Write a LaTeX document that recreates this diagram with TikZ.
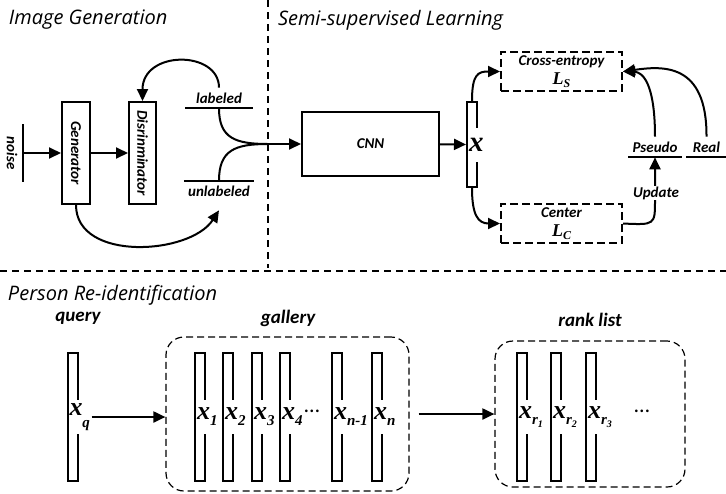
\documentclass[tikz,border=0pt]{standalone}
\usepackage{fontspec}
\setmainfont{Carlito}
\newfontfamily\titlefont{Open Sans}
\newfontfamily\serifx{Liberation Serif}
\usepackage{tikz}
\usetikzlibrary{arrows.meta}

% feature vector label: x with a subscript
\newcommand{\xv}[2][-6pt]{{\serifx\bfseries\itshape\fontsize{26}{26}\selectfont x}\raisebox{#1}{\serifx\bfseries\itshape\fontsize{15}{15}\selectfont #2}}
\newcommand{\rsub}[1]{r\raisebox{-3pt}{\fontsize{10}{10}\selectfont #1}}
\newcommand{\lossvar}[1]{{\serifx\itshape\fontsize{18}{18}\selectfont L\raisebox{-3pt}{\fontsize{12}{12}\selectfont #1}}}

\begin{document}
\begin{tikzpicture}[x=1pt, y=-1pt, line width=2pt,
        box/.style = {draw, inner sep=0pt},
        lossbox/.style = {draw, dash pattern=on 8pt off 4pt,
            minimum width=121pt, minimum height=39pt,
            inner sep=0pt, align=center},
        feat/.style = {draw, minimum width=10pt, minimum height=128pt,
            inner sep=0pt},
        sub/.style = {fill=white, inner sep=0.5pt, minimum height=34pt,
            anchor=west},
        lbl/.style = {font=\bfseries\itshape\fontsize{15}{19}\selectfont},
        head/.style = {font=\bfseries\itshape\fontsize{19}{20}\selectfont},
        title/.style = {font=\titlefont\itshape\fontsize{20}{22}\selectfont,
            anchor=west, inner sep=0pt},
        arr/.style = {-{Triangle[length=12pt,width=11pt]}},
        sep/.style = {line width=1.1pt, dash pattern=on 7pt off 5pt},
        group/.style = {draw, line width=1.2pt, dash pattern=on 7pt off 4pt,
            rounded corners=18pt, inner sep=0pt},
        dots/.style = {font=\fontsize{22}{22}\selectfont, inner sep=0pt}]

    \useasboundingbox (0,0) rectangle (726,493);

    % Section separators
    \draw[sep] (268,0) -- (268,268);
    \draw[sep] (0,271) -- (726,271);

    % Image generation
    \node[title] (tgen) at (8,20) {Image Generation};
    \node[lbl, rotate=-90] (noise) at (12,153) {noise};
    \node[minimum height=56pt, minimum width=0pt, inner sep=0pt] (nbar) at (23,153) {};
    \draw (nbar.north) -- (nbar.south);
    \node[box, lbl, minimum width=28pt, minimum height=102pt] (gen) at (76,153) {\rotatebox{-90}{Generator}};
    \node[box, lbl, minimum width=27pt, minimum height=102pt] (dis) at (142.5,153) {\rotatebox{-90}{Disrinminator}};
    \draw[arr] (nbar) -- (gen);
    \draw[arr] (gen) -- (dis);

    % Labeled / unlabeled data
    \node[lbl, minimum width=66pt, inner ysep=4pt] (labeled) at (219,98) {labeled};
    \draw (labeled.south west) -- (labeled.south east);
    \node[lbl, minimum width=66pt, inner ysep=4pt] (unlabeled) at (219,191) {unlabeled};
    \draw (unlabeled.north west) -- (unlabeled.north east);
    \draw[arr] (labeled.north) .. controls (219,50) and (142.5,50) .. (dis.north);
    \draw[arr] (gen.south) .. controls (76,262) and (190,255) .. ([yshift=-9pt]unlabeled.south);

    % Semi-supervised learning
    \node[title] (tsemi) at (277,20) {Semi-supervised Learning};
    \node[box, lbl, minimum width=137pt, minimum height=64pt] (cnn) at (370.5,144) {CNN};
    \coordinate (join) at (268,144);
    \draw (labeled.south) .. controls (219,138) and (235,144) .. (join);
    \draw (unlabeled.north) .. controls (219,150) and (235,144) .. (join);
    \draw[arr] (join) -- (cnn.west);

    \node[feat, minimum height=85pt] (xbar) at (472,144.5) {};
    \node[sub] (xlab) at ([xshift=1.5pt]xbar.west) {{\serifx\bfseries\itshape\fontsize{29}{29}\selectfont x}};
    \draw[arr] (cnn) -- (xbar);

    \node[lossbox, lbl] (ce) at (561.5,71.5) {Cross-entropy\\\lossvar{S}};
    \node[lossbox, lbl] (center) at (561.5,223.5) {Center\\\lossvar{C}};
    \draw[arr] (xbar.north) .. controls (472,74) and (478,71.5) .. (ce.west);
    \draw[arr] (xbar.south) .. controls (472,215) and (478,223.5) .. (center.west);

    % Pseudo and real labels
    \node[lbl, minimum width=46pt, inner ysep=4pt] (pseudo) at (655,147) {Pseudo};
    \draw (pseudo.south west) -- (pseudo.south east);
    \node[lbl, minimum width=39pt, inner ysep=4pt] (real) at (706.5,147) {Real};
    \draw (real.south west) -- (real.south east);
    \draw[arr] (pseudo.north) .. controls (655,82) and (642,72) .. (ce.east);
    \draw[arr] (real.north) .. controls (707,62) and (662,66) .. (ce.east);
    \draw[arr] (center.east) .. controls (655,225) .. (655,200) -- (pseudo.south);
    \node[lbl, fill=white, inner sep=1pt] (update) at (656,193) {Update};

    % Person re-identification
    \node[title] (treid) at (7,295) {Person Re-identification};
    \node[head] (query) at (78,318) {query};
    \node[head] (gallerylbl) at (288,318) {gallery};
    \node[head] (ranklbl) at (590,320) {rank list};

    \node[feat] (q) at (72.5,417) {};
    \node[sub] (ql) at ([xshift=1.5pt]q.west) {\xv[-12pt]{q}};

    \node[group, minimum width=243pt, minimum height=154pt] (gallery) at (287.5,414) {};
    \foreach \px/\s [count=\i] in {200/1, 228/2, 257/3, 285/4, 337/{n-1}, 377/n} {
        \node[feat] (g\i) at (\px,417) {};
        \node[sub] (gl\i) at ([xshift=1.5pt]g\i.west) {\xv{\s}};
    }
    \node[dots] (gdots) at (312,411) {\ldots};

    \node[group, minimum width=190pt, minimum height=146pt] (rank) at (590,414) {};
    \foreach \px/\s [count=\i] in {522/1, 556/2, 591/3} {
        \node[feat] (r\i) at (\px,417) {};
        \node[sub] (rl\i) at ([xshift=1.5pt]r\i.west) {\xv{\rsub{\s}}};
    }
    \node[dots] (rdots) at (642,411) {\ldots};

    \draw[arr] (ql.east) -- (ql.east -| gallery.west);
    \draw[arr] ([xshift=9pt]gallery.east) -- (rank.west);

\end{tikzpicture}
\end{document}
